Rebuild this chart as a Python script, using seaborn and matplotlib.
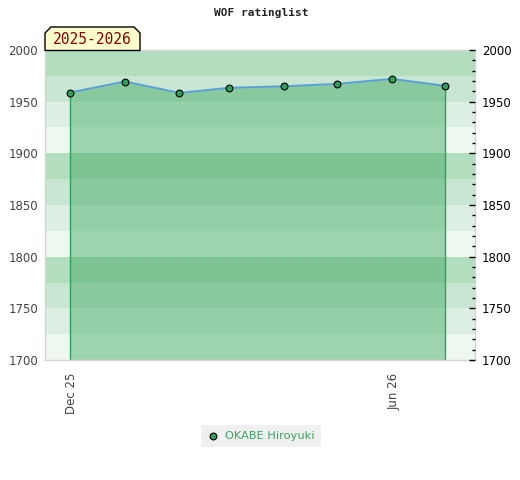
import matplotlib.pyplot as plt
import matplotlib.dates as mdates
from matplotlib.patches import Polygon
from matplotlib.ticker import MultipleLocator
from matplotlib.transforms import ScaledTranslation
import pandas as pd
import seaborn as sns

# Data
months = ['2025-12-01', '2026-01-01', '2026-02-01', '2026-03-01',
          '2026-04-01', '2026-05-01', '2026-06-01', '2026-07-01']
ratings = [1958.8, 1969.5, 1958.5, 1963.4, 1964.9, 1967.2, 1972.1, 1965.3]
player = 'OKABE Hiroyuki'
season = '2025-2026'
title = 'WOF ratinglist'

df = pd.DataFrame({'date': pd.to_datetime(months), 'rating': ratings})

sns.set_style('white')
plt.rcParams['font.family'] = ['DejaVu Sans']

fig = plt.figure(figsize=(5.2, 4.8), dpi=100)
ax = fig.add_axes([45/520, 1-360/480, 430/520, 310/480])

ymin, ymax = 1700, 2000
band_cols = ['#eff7f1', '#dcefe2', '#c8e6d2', '#b3debe']
y = ymin
i = 0
while y < ymax:
    ax.axhspan(y, y + 25, color=band_cols[i % 4], lw=0, zorder=0)
    y += 25
    i += 1

ax.fill_between(df['date'], df['rating'], ymin, color='#3ba85f', alpha=0.45,
                lw=0, zorder=1)
ax.vlines([df['date'].iloc[0], df['date'].iloc[-1]], ymin,
          [df['rating'].iloc[0], df['rating'].iloc[-1]],
          color='#2ca25f', lw=1, zorder=2)
sns.lineplot(data=df, x='date', y='rating', ax=ax, color='#5aa0d8', lw=1.4,
             zorder=3)
sns.scatterplot(data=df, x='date', y='rating', ax=ax, color='#2e9e5b',
                edgecolor='black', linewidth=0.8, s=24, zorder=4, label=player)

ax.set_xlim(pd.Timestamp('2025-11-17'), pd.Timestamp('2026-07-18'))
ax.set_ylim(ymin, ymax)
ax.set_xlabel('')
ax.set_ylabel('')
ax.xaxis.set_major_locator(mdates.MonthLocator(bymonth=[6, 12]))
ax.xaxis.set_major_formatter(mdates.DateFormatter('%b %y'))
ax.yaxis.set_major_locator(MultipleLocator(50))
ax.tick_params(axis='x', length=0, labelsize=8.5, labelcolor='#444444',
               rotation=90, pad=9)
# nudge the rotated date labels a little to the right
shift = ScaledTranslation(2/100, 0, fig.dpi_scale_trans)
for lbl in ax.get_xticklabels():
    lbl.set_transform(lbl.get_transform() + shift)
ax.tick_params(axis='y', length=0, labelsize=8.5, labelcolor='#444444', pad=5)
for sp in ax.spines.values():
    sp.set_color('#d4d4d4')
    sp.set_linewidth(1)

ax2 = ax.twinx()
ax2.set_ylim(ymin, ymax)
ax2.yaxis.set_major_locator(MultipleLocator(50))
ax2.yaxis.set_minor_locator(MultipleLocator(10))
ax2.tick_params(axis='y', which='major', direction='in', length=4, width=1,
                color='black', labelsize=8.5, labelcolor='black', pad=5)
ax2.tick_params(axis='y', which='minor', direction='in', length=2.5,
                width=1, color='black')
for sp in ax2.spines.values():
    sp.set_visible(False)

ax.get_legend().remove()
handles, labels = ax.get_legend_handles_labels()
leg = fig.legend(handles, labels, loc='center',
                 bbox_to_anchor=(261/520, 1-436/480), frameon=True,
                 facecolor='#f0f0f0', edgecolor='none', fancybox=False,
                 fontsize=8.2, handletextpad=0.6, borderpad=0.55,
                 handlelength=1.0)
leg.get_frame().set_alpha(1)
for t in leg.get_texts():
    t.set_color('#3aa55e')

fig.text(261/520, 1-13/480, title, ha='center', va='center',
         family='DejaVu Sans Mono', fontsize=8, fontweight='bold',
         color='#222222')

# season label with chamfered corners
W, H = 520, 480
pts = [(45, 50.5), (45, 33), (51, 27), (134, 27), (140, 33), (140, 50.5)]
box = Polygon([(px/W, 1-py/H) for px, py in pts], closed=True,
              transform=fig.transFigure, facecolor='#ffffcc',
              edgecolor='black', lw=1, zorder=5)
fig.patches.append(box)
fig.text(92.5/W, 1-40/H, season, ha='center', va='center',
         family='DejaVu Sans Mono', fontsize=10.5, color='#8b0000', zorder=6)

fig.savefig('out.png', dpi=100)
